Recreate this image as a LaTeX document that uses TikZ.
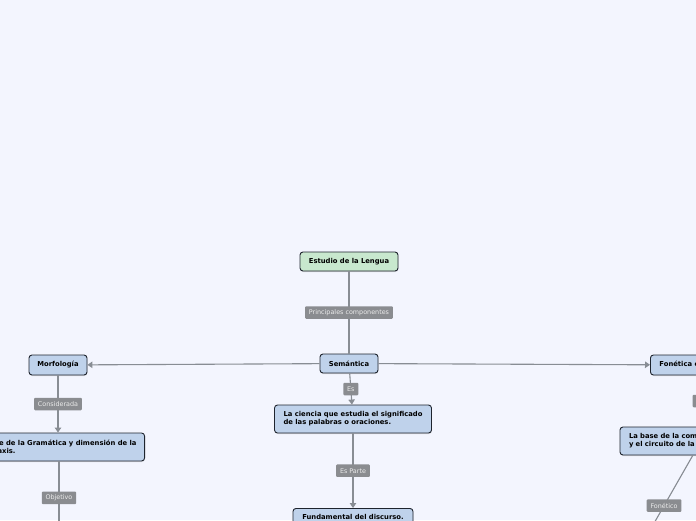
\documentclass[tikz,border=0pt]{standalone}
\usepackage{fontspec}
\setmainfont{DejaVu Sans}
\usepackage{xcolor}
\usepackage{tikz}
\usetikzlibrary{arrows.meta, shadows}
\definecolor{fondo}{RGB}{243,245,254}
\definecolor{azulnodo}{RGB}{191,210,235}
\definecolor{verdenodo}{RGB}{200,232,206}
\definecolor{grisetiqueta}{RGB}{138,140,144}
\definecolor{grislinea}{RGB}{136,141,148}
\definecolor{bordenodo}{RGB}{30,36,46}

\begin{document}
\begin{tikzpicture}[
      x=1pt, y=-1pt,
      topic/.style={rectangle, rounded corners=3pt, draw=bordenodo, line width=0.9pt, fill=azulnodo, minimum height=19pt, inner xsep=8pt, inner ysep=2pt, align=left, font=\bfseries\fontsize{6.8}{8}\selectfont, drop shadow={shadow xshift=0.4pt, shadow yshift=-1pt, opacity=0.25}},
      central/.style={topic, fill=verdenodo},
      etiqueta/.style={rectangle, rounded corners=1pt, fill=grisetiqueta, text=white!92!black, inner xsep=3.8pt, inner ysep=0pt, minimum height=12.5pt, font=\fontsize{6.4}{7.5}\selectfont},
      conector/.style={draw=grislinea, line width=1.1pt},
      flecha/.style={conector, -{Triangle[width=6.5pt, length=5pt]}}
  ]
  \useasboundingbox (0,0) rectangle (696,520);
  \clip (0,0) rectangle (696,520);
  \fill[fondo] (0,0) rectangle (696,520);

  \node[central, minimum width=98pt] (estudio) at (349,261.5) {Estudio de la Lengua};
  \node[topic, minimum width=58pt] (semantica) at (349,363.5) {Semántica};

  \node[topic, minimum width=58pt, minimum height=20pt] (morfologia) at (58,365) {Morfología};
  \node[topic, anchor=east, minimum height=28pt] (gramatica) at (145,447) {Parte de la Gramática y dimensión de la\\sintaxis.};

  \node[topic, minimum height=28pt, inner xsep=9pt] (ciencia) at (353,419) {La ciencia que estudia el significado\\de las palabras o oraciones.};
  \node[topic, anchor=north, minimum width=120pt, minimum height=18pt] (discurso) at (353,508) {Fundamental del discurso.};

  \node[topic, anchor=west, minimum height=20pt, inner xsep=9pt] (fonetica) at (650,365) {Fonética e Fonología};
  \node[topic, text width=144pt, minimum height=28pt, inner xsep=9pt] (labase) at (701,441) {La base de la comunicación oral\\y el circuito de la comunicación.};

  \coordinate (objetivofin) at (59,560);
  \coordinate (foneticofin) at (633,560);

  \draw[conector] (estudio) -- node[etiqueta] {Principales componentes} (semantica);

  \draw[flecha] (semantica) -- (morfologia);
  \draw[flecha] (semantica) -- (fonetica);
  \draw[flecha] (semantica) -- node[etiqueta] {Es} (ciencia);

  \draw[flecha] (morfologia) -- node[etiqueta] {Considerada} (morfologia |- gramatica.north);
  \draw[conector] (objetivofin |- gramatica.south) -- node[etiqueta, pos=0.37] {Objetivo} (objetivofin);

  \draw[flecha] (ciencia) -- node[etiqueta] {Es Parte} (discurso);

  \draw[conector] (fonetica) -- node[etiqueta] {Es} (labase);
  \draw[conector] (labase) -- node[etiqueta, pos=0.48] {Fonético} (foneticofin);

  \end{tikzpicture}
\end{document}
